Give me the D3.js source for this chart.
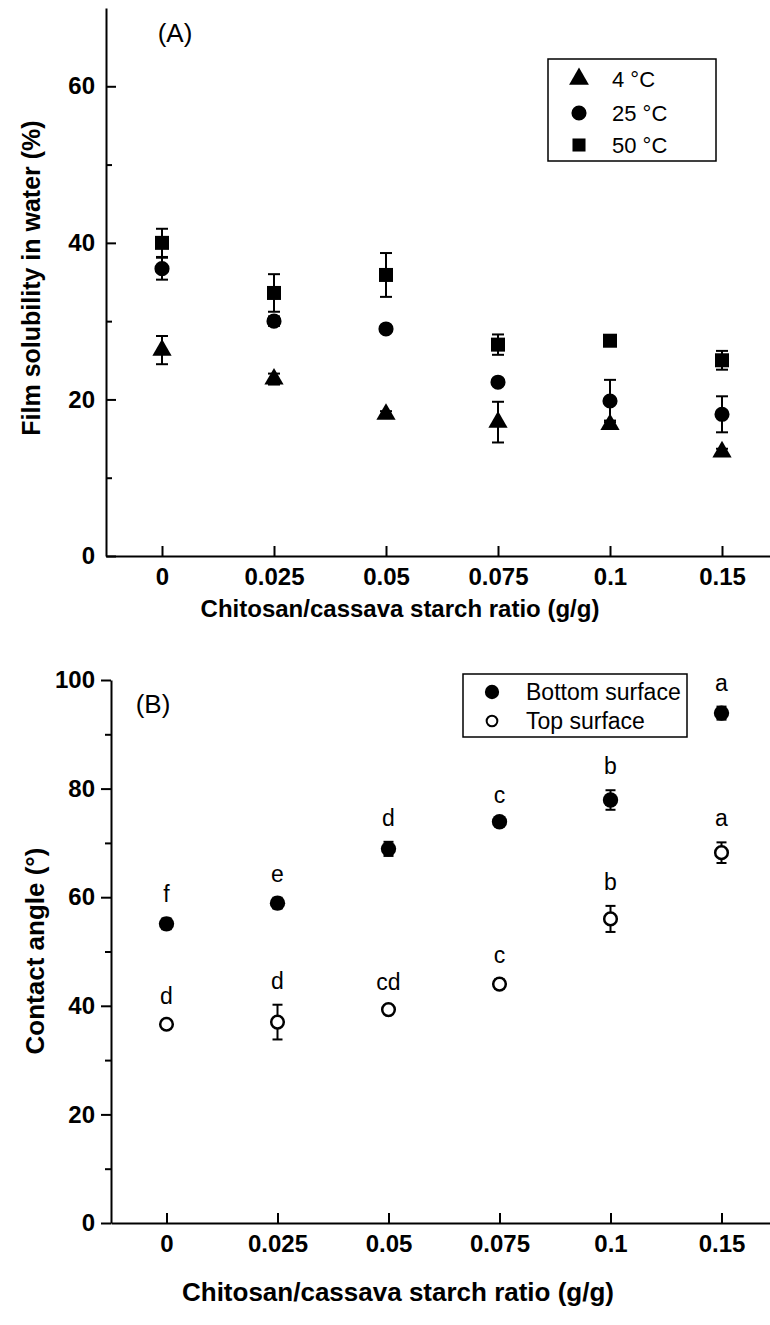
<!DOCTYPE html>
<html>
<head>
<meta charset="utf-8">
<script src="https://cdn.jsdelivr.net/npm/d3@7"></script>
<style>
  body { margin: 0; background: #fff; }
  svg { display: block; font-family: Arial, "Liberation Sans", sans-serif; }
  .axis text { font-weight: bold; font-size: 24px; fill: #000; }
  .axis path, .axis line { stroke: #000; stroke-width: 2px; }
</style>
</head>
<body>
<svg width="770" height="1325"></svg>
<script>
// categories on the x axis (both panels)
var ratios = ["0", "0.025", "0.05", "0.075", "0.1", "0.15"];

// panel A: film solubility in water (%)
var sol4 = [26.3, 22.6, 18.1, 17.1, 16.8, 13.3];
var err4 = [1.8, 0.7, 0.4, 2.6, 0.5, 0.4];
var sol25 = [36.7, 30.0, 29.0, 22.2, 19.8, 18.1];
var err25 = [1.4, 0.6, 0.4, 0.4, 2.7, 2.3];
var sol50 = [40.0, 33.6, 35.9, 27.0, 27.5, 25.0];
var err50 = [1.8, 2.4, 2.8, 1.3, 0.4, 1.2];
var legendA = ["4 °C", "25 °C", "50 °C"];

// panel B: contact angle (degrees)
var bottomSurf = [55.1, 58.9, 68.9, 73.9, 77.9, 93.9];
var bottomErr = [1.0, 1.0, 1.3, 0.5, 1.8, 1.2];
var bottomLetters = ["f", "e", "d", "c", "b", "a"];
var topSurf = [36.6, 37.0, 39.3, 44.0, 56.0, 68.2];
var topErr = [0.8, 3.2, 0.7, 0.9, 2.4, 1.9];
var topLetters = ["d", "d", "cd", "c", "b", "a"];
var legendB = ["Bottom surface", "Top surface"];

var yTicksA = [0, 20, 40, 60];
var yMinorA = [10, 30, 50];
var yTicksB = [0, 20, 40, 60, 80, 100];
var yMinorB = [10, 30, 50, 70, 90];

var svg = d3.select("svg");

function errorBars(g, x, y, vals, errs, cap) {
  vals.forEach(function(v, i) {
    var cx = x(ratios[i]), y1 = y(v - errs[i]), y2 = y(v + errs[i]);
    g.append("line").attr("x1", cx).attr("x2", cx).attr("y1", y1).attr("y2", y2)
      .attr("stroke", "#000").attr("stroke-width", 2);
    [y1, y2].forEach(function(yy) {
      g.append("line").attr("x1", cx - cap / 2).attr("x2", cx + cap / 2)
        .attr("y1", yy).attr("y2", yy).attr("stroke", "#000").attr("stroke-width", 2);
    });
  });
}

function markers(g, x, y, vals, type, size, open) {
  g.selectAll(null).data(vals).enter().append("path")
    .attr("d", d3.symbol().type(type).size(size))
    .attr("transform", function(d, i) { return "translate(" + x(ratios[i]) + "," + y(d) + ")"; })
    .attr("fill", open ? "#fff" : "#000")
    .attr("stroke", "#000")
    .attr("stroke-width", open ? 2.5 : 0);
}

// ---------- Panel A ----------
var xA = d3.scalePoint().domain(ratios).range([106, 778]).padding(0.5);
var yA = d3.scaleLinear().domain([0, 70]).range([556, 8]);

svg.append("g").attr("class", "axis")
  .attr("transform", "translate(0,556)")
  .call(d3.axisBottom(xA).tickSize(-10).tickSizeOuter(0).tickPadding(12));

svg.append("g").attr("class", "axis")
  .attr("transform", "translate(106,0)")
  .call(d3.axisLeft(yA).tickValues(yTicksA).tickSize(-10).tickSizeOuter(0).tickPadding(11));

svg.append("g").attr("class", "axis")
  .attr("transform", "translate(106,0)")
  .call(d3.axisLeft(yA).tickValues(yMinorA).tickSize(-6).tickSizeOuter(0).tickFormat(""))
  .select(".domain").remove();

var gA = svg.append("g");
errorBars(gA, xA, yA, sol50, err50, 12);
errorBars(gA, xA, yA, sol25, err25, 12);
errorBars(gA, xA, yA, sol4, err4, 12);
markers(gA, xA, yA, sol50, d3.symbolSquare, 196, false);
markers(gA, xA, yA, sol25, d3.symbolCircle, 180, false);
markers(gA, xA, yA, sol4, d3.symbolTriangle, 160, false);

svg.append("text").attr("x", 175).attr("y", 42).attr("text-anchor", "middle")
  .attr("font-size", 26).text("(A)");

svg.append("text").attr("x", 400).attr("y", 617).attr("text-anchor", "middle")
  .attr("font-size", 24).attr("font-weight", "bold")
  .text("Chitosan/cassava starch ratio (g/g)");

svg.append("text").attr("transform", "translate(40,278) rotate(-90)")
  .attr("text-anchor", "middle").attr("font-size", 25).attr("font-weight", "bold")
  .text("Film solubility in water (%)");

// legend A
var legA = svg.append("g");
legA.append("rect").attr("x", 548).attr("y", 59).attr("width", 168).attr("height", 102)
  .attr("fill", "none").attr("stroke", "#000").attr("stroke-width", 1.5);
var legTypes = [d3.symbolTriangle, d3.symbolCircle, d3.symbolSquare];
var legSizes = [170, 180, 170];
var legY = [79, 113, 145];
legendA.forEach(function(t, i) {
  legA.append("path").attr("d", d3.symbol().type(legTypes[i]).size(legSizes[i]))
    .attr("transform", "translate(579," + legY[i] + ")");
  legA.append("text").attr("x", 612).attr("y", legY[i] + 8).attr("font-size", 22).text(t);
});

// ---------- Panel B ----------
var xB = d3.scalePoint().domain(ratios).range([111, 777]).padding(0.5);
var yB = d3.scaleLinear().domain([0, 100]).range([1223, 680]);

svg.append("g").attr("class", "axis")
  .attr("transform", "translate(0,1223)")
  .call(d3.axisBottom(xB).tickSize(-10).tickSizeOuter(0).tickPadding(12));

svg.append("g").attr("class", "axis")
  .attr("transform", "translate(111,0)")
  .call(d3.axisLeft(yB).tickValues(yTicksB).tickSize(10).tickSizeOuter(0).tickPadding(6));

svg.append("g").attr("class", "axis")
  .attr("transform", "translate(111,0)")
  .call(d3.axisLeft(yB).tickValues(yMinorB).tickSize(6).tickSizeOuter(0).tickFormat(""))
  .select(".domain").remove();

var gB = svg.append("g");
errorBars(gB, xB, yB, bottomSurf, bottomErr, 10);
errorBars(gB, xB, yB, topSurf, topErr, 10);
markers(gB, xB, yB, bottomSurf, d3.symbolCircle, 185, false);
markers(gB, xB, yB, topSurf, d3.symbolCircle, 125, true);

// significance letters
function letters(vals, errs, labs) {
  gB.selectAll(null).data(labs).enter().append("text")
    .attr("x", function(d, i) { return xB(ratios[i]); })
    .attr("y", function(d, i) { return yB(vals[i] + errs[i]) - 16; })
    .attr("text-anchor", "middle").attr("font-size", 23)
    .text(function(d) { return d; });
}
letters(bottomSurf, bottomErr, bottomLetters);
letters(topSurf, topErr, topLetters);

svg.append("text").attr("x", 153).attr("y", 713).attr("text-anchor", "middle")
  .attr("font-size", 26).text("(B)");

svg.append("text").attr("x", 398).attr("y", 1301).attr("text-anchor", "middle")
  .attr("font-size", 26).attr("font-weight", "bold")
  .text("Chitosan/cassava starch ratio (g/g)");

svg.append("text").attr("transform", "translate(44,951) rotate(-90)")
  .attr("text-anchor", "middle").attr("font-size", 26).attr("font-weight", "bold")
  .text("Contact angle (°)");

// legend B
var legB = svg.append("g");
legB.append("rect").attr("x", 463).attr("y", 674).attr("width", 224).attr("height", 63)
  .attr("fill", "none").attr("stroke", "#000").attr("stroke-width", 1.5);
var legBY = [692, 721];
legendB.forEach(function(t, i) {
  legB.append("path").attr("d", d3.symbol().type(d3.symbolCircle).size(i ? 90 : 160))
    .attr("transform", "translate(492," + legBY[i] + ")")
    .attr("fill", i ? "#fff" : "#000").attr("stroke", "#000").attr("stroke-width", i ? 2 : 0);
  legB.append("text").attr("x", 526).attr("y", legBY[i] + 8).attr("font-size", 23).text(t);
});
</script>
</body>
</html>
